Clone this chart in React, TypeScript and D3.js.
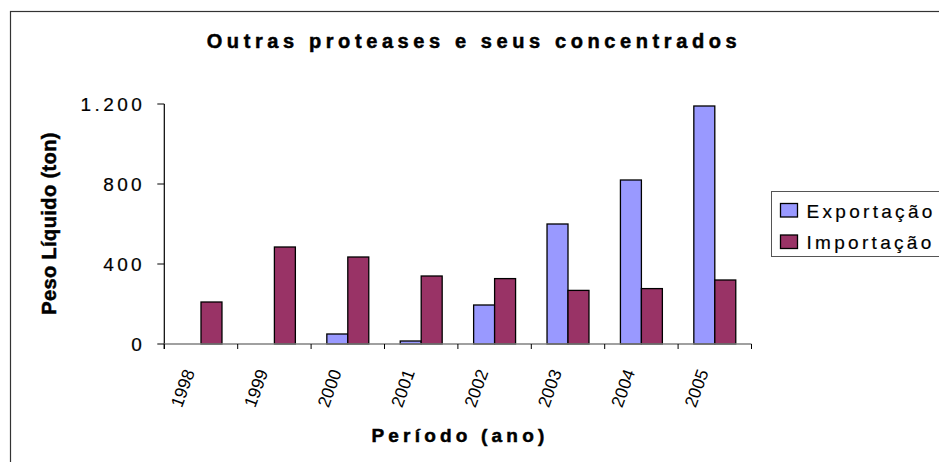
import React from "react";
import * as d3 from "d3";

const years = ["1998", "1999", "2000", "2001", "2002", "2003", "2004", "2005"];
const exportacao = [0, 0, 50, 15, 195, 600, 820, 1190];
const importacao = [210, 485, 435, 340, 327, 268, 277, 320];
const seriesNames = ["Exportação", "Importação"];
const seriesColors = ["#9999FF", "#993366"];
const yTicks = [0, 400, 800, 1200];
const title = "Outras proteases e seus concentrados";
const yTitle = "Peso Líquido (ton)";
const xTitle = "Período (ano)";

const FONT = "'Liberation Sans', Arial, sans-serif";

export default function App() {
  const W = 939;
  const H = 462;
  const left = 164.3;
  const right = 751.5;
  const top = 104;
  const bottom = 344;

  const x0 = d3.scaleBand<string>().domain(years).range([left, right]).padding(0);
  const bw = x0.bandwidth() / 3.5;
  const x1 = d3.scaleBand<string>().domain(seriesNames).range([0, bw * 2]).padding(0);
  const y = d3.scaleLinear().domain([0, 1200]).range([bottom, top]);
  const locale = d3.formatLocale({ decimal: ",", thousands: ".", grouping: [3], currency: ["", ""] });
  const fmt = locale.format(",d");
  const values = [exportacao, importacao];

  const tickPositions = years.map((yr) => x0(yr) as number).concat([right]);

  return (
    <svg
      width={W}
      height={H}
      style={{ position: "absolute", left: 0, top: 0, background: "#fff" }}
      fontFamily={FONT}
    >
      <rect x={0} y={0} width={W} height={H} fill="#fff" />
      <rect x={10.5} y={11.5} width={1000} height={600} fill="none" stroke="#333" strokeWidth={1.2} />

      <text x={474} y={48} textAnchor="middle" fontSize={20} fontWeight="bold" letterSpacing={4.6} fill="#000" stroke="#000" strokeWidth={0.5}>
        {title}
      </text>

      {/* y axis */}
      <line x1={left} x2={left} y1={top} y2={bottom + 5} stroke="#000" strokeWidth={1.2} />
      {yTicks.map((t) => (
        <g key={t}>
          <line x1={left - 7} x2={left} y1={y(t)} y2={y(t)} stroke="#000" strokeWidth={1} />
          <text
            x={141.7 + 3.4}
            y={y(t)}
            dy="0.35em"
            textAnchor="end"
            fontSize={19}
            letterSpacing={3.4}
            fill="#000"
            stroke="#000"
            strokeWidth={0.2}
          >
            {fmt(t)}
          </text>
        </g>
      ))}

      <text
        transform={`translate(56,223.5) rotate(-90)`}
        textAnchor="middle"
        fontSize={20}
        fontWeight="bold"
        letterSpacing={0.4}
        fill="#000"
        stroke="#000"
        strokeWidth={0.5}
      >
        {yTitle}
      </text>

      {/* bars */}
      {years.map((yr, i) => {
        const cx = (x0(yr) as number) + x0.bandwidth() / 2;
        return (
          <g key={yr} transform={`translate(${cx - bw},0)`}>
            {seriesNames.map((s, j) => {
              const v = values[j][i];
              if (!v) return null;
              return (
                <rect
                  key={s}
                  x={x1(s) as number}
                  y={y(v)}
                  width={x1.bandwidth()}
                  height={bottom - y(v)}
                  fill={seriesColors[j]}
                  stroke="#000"
                  strokeWidth={1.3}
                />
              );
            })}
          </g>
        );
      })}

      {/* x axis */}
      <line x1={left} x2={right} y1={bottom} y2={bottom} stroke="#808080" strokeWidth={1.3} />
      {tickPositions.map((p, i) => (
        <line key={i} x1={p} x2={p} y1={bottom} y2={bottom + 5} stroke="#000" strokeWidth={1} />
      ))}
      {years.map((yr) => {
        const cx = (x0(yr) as number) + x0.bandwidth() / 2;
        return (
          <text
            key={yr}
            transform={`translate(${cx - 6},372) rotate(-70)`}
            textAnchor="end"
            fontSize={17.5}
            fill="#000"
          >
            {yr}
          </text>
        );
      })}

      <text x={460} y={442} textAnchor="middle" fontSize={19} fontWeight="bold" letterSpacing={4.2} fill="#000" stroke="#000" strokeWidth={0.5}>
        {xTitle}
      </text>

      {/* legend */}
      <rect x={771.5} y={191.5} width={200} height={65} fill="#fff" stroke="#555" strokeWidth={1} />
      {seriesNames.map((s, j) => (
        <g key={s}>
          <rect
            x={780.5}
            y={203.5 + j * 31.5}
            width={17}
            height={13.5}
            fill={seriesColors[j]}
            stroke="#000"
            strokeWidth={1.3}
          />
          <text x={806.5} y={217.5 + j * 31.5} fontSize={19} letterSpacing={3.3} fill="#000" stroke="#000" strokeWidth={0.2}>
            {s}
          </text>
        </g>
      ))}
    </svg>
  );
}
